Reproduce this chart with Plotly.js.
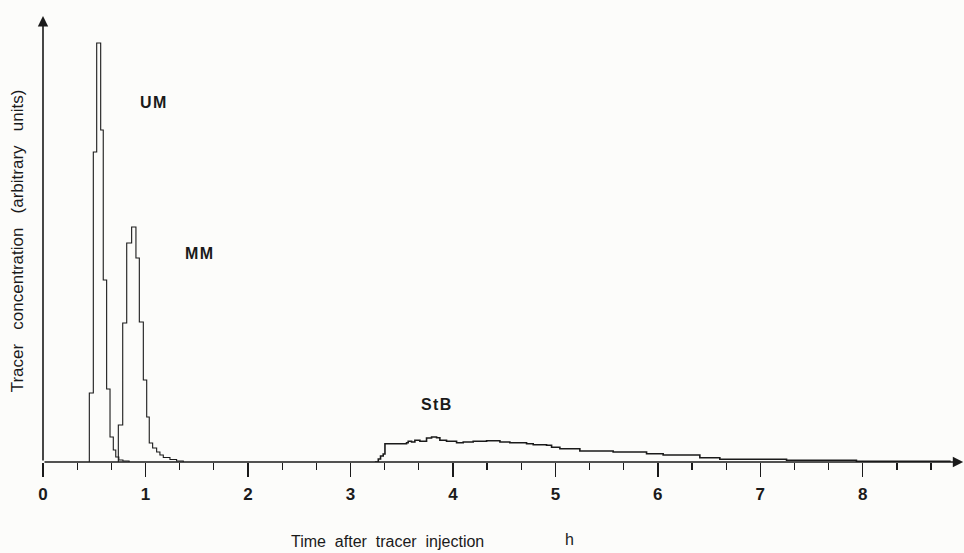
<!DOCTYPE html>
<html>
<head>
<meta charset="utf-8">
<script src="https://cdn.plot.ly/plotly-3.0.1.min.js"></script>
<style>html,body{margin:0;padding:0;background:#fcfcfa;}</style>
</head>
<body>
<div id="chart" style="width:964px;height:553px;"></div>
<script>
// Time after tracer injection (h) – left edges of sampling bins, concentration (arbitrary units)
const umTime = [0.452, 0.452, 0.491, 0.524, 0.563, 0.588, 0.621, 0.654, 0.686, 0.71, 0.74, 0.78, 0.84];
const umConc = [0, 69, 310, 419, 332, 182, 73, 25, 12, 5, 2, 1, 0];

const mmTime = [0.735, 0.735, 0.778, 0.817, 0.865, 0.907, 0.940, 0.979, 1.012, 1.037, 1.070, 1.109, 1.141, 1.174, 1.239, 1.304, 1.369];
const mmConc = [0, 37, 139, 219, 235, 204, 140, 82, 45, 19, 14, 10, 7, 4.5, 2.5, 1, 0];

const stbTime = [3.239, 3.272, 3.294, 3.320, 3.337, 3.548, 3.564, 3.597, 3.629, 3.678, 3.743, 3.792, 3.841, 3.873, 3.938, 4.036, 4.101, 4.198, 4.329, 4.459, 4.556, 4.719, 4.784, 4.914, 4.963, 5.044, 5.239, 5.564, 5.890, 6.052, 6.410, 6.605, 7.256, 7.938, 8.85];
const stbConc = [0, 3, 6, 8, 18.3, 19.3, 20.7, 20, 21.7, 20.7, 24, 25, 24.3, 21.7, 20.7, 19.3, 20, 20.7, 21.3, 20, 19.3, 18.3, 17.3, 16.7, 14.7, 13.3, 11, 10, 8.3, 7, 4.3, 2.7, 1.7, 0.7, 0];

const xTickVals = [0, 1, 2, 3, 4, 5, 6, 7, 8];
const xTickText = ['0', '1', '2', '3', '4', '5', '6', '7', '8'];

const seriesLabels = [
  {text: 'U\u200AM', x: 1.073, y: 360},
  {text: 'M\u200AM', x: 1.522, y: 209},
  {text: 'S\u200At\u200AB', x: 3.834, y: 58}
];

const ink = '#1a1a1a';
const fam = 'Liberation Sans, Arial, sans-serif';
const labelFont = {family: fam, size: 16, color: ink, weight: 'bold'};

const traces = [
  {x: umTime, y: umConc, name: 'UM', mode: 'lines', line: {shape: 'hv', color: ink, width: 1.1}},
  {x: mmTime, y: mmConc, name: 'MM', mode: 'lines', line: {shape: 'hv', color: ink, width: 1.1}},
  {x: stbTime, y: stbConc, name: 'StB', mode: 'lines', line: {shape: 'hv', color: ink, width: 1.6}}
];

const annotations = seriesLabels.map(l => ({
  text: l.text, x: l.x, y: l.y, xref: 'x', yref: 'y', showarrow: false,
  font: labelFont
}));

// axes drawn as arrows from the origin
annotations.push({x: 8.98, y: 0, ax: 0, ay: 0, xref: 'x', yref: 'y', axref: 'x', ayref: 'y',
  text: '', showarrow: true, arrowhead: 2, arrowsize: 1.3, arrowwidth: 1.6, arrowcolor: ink});
annotations.push({x: 0, y: 446, ax: 0, ay: 0, xref: 'x', yref: 'y', axref: 'x', ayref: 'y',
  text: '', showarrow: true, arrowhead: 2, arrowsize: 1.3, arrowwidth: 1.6, arrowcolor: ink});

// x-axis title and unit
annotations.push({text: 'Time  after  tracer  injection', xref: 'paper', yref: 'paper',
  x: (387 - 43) / 912, y: -(541 - 462) / 442, xanchor: 'center', yanchor: 'middle', showarrow: false,
  font: {family: fam, size: 16, color: ink}});
annotations.push({text: 'h', xref: 'paper', yref: 'paper',
  x: (569 - 43) / 912, y: -(539 - 462) / 442, xanchor: 'center', yanchor: 'middle', showarrow: false,
  font: {family: fam, size: 16, color: ink}});

const layout = {
  width: 964, height: 553,
  margin: {l: 43, r: 9, t: 20, b: 91},
  paper_bgcolor: '#fcfcfa', plot_bgcolor: '#fcfcfa',
  showlegend: false,
  xaxis: {
    range: [0, 8.9], showgrid: false, zeroline: false, showline: false,
    tickmode: 'array', tickvals: xTickVals, ticktext: xTickText,
    ticks: 'outside', ticklen: 14, tickwidth: 1.4, tickcolor: ink,
    ticklabelstandoff: 3,
    tickfont: {family: fam, size: 17, color: ink, weight: 'bold'},
    minor: {dtick: 1 / 3, tick0: 0, ticks: 'outside', ticklen: 7, tickwidth: 1.2, tickcolor: ink, showgrid: false}
  },
  yaxis: {
    range: [0, 442], showgrid: false, zeroline: false, showline: false,
    ticks: '', showticklabels: false,
    title: {text: 'Tracer   concentration   (arbitrary   units)', standoff: 14,
      font: {family: fam, size: 17, color: ink}}
  },
  annotations: annotations
};

Plotly.newPlot('chart', traces, layout, {staticPlot: true, displayModeBar: false});
</script>
</body>
</html>
